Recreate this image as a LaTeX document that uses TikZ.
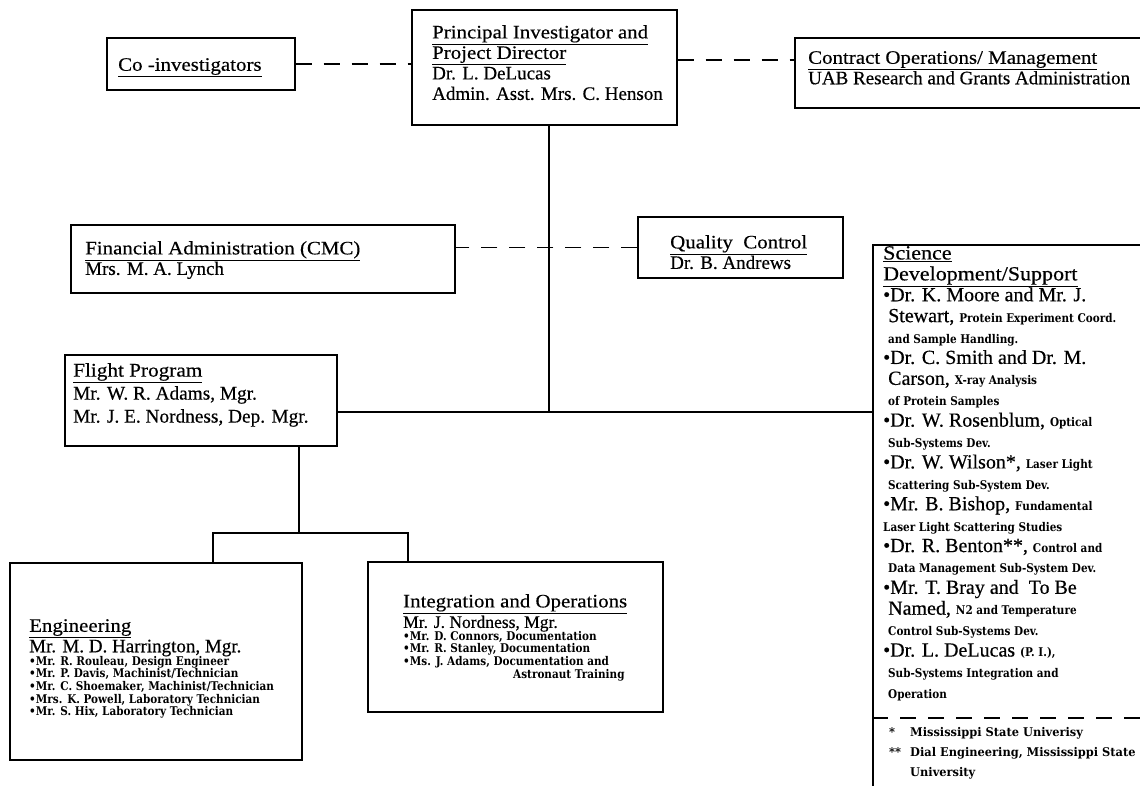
\documentclass[tikz,border=0pt]{standalone}
\usepackage{fontspec}
\setmainfont{Liberation Serif}[FakeBold=0.4]
\newfontfamily\titfam{Liberation Serif}[FakeStretch=1.1, FakeBold=0.4]
\newfontfamily\smfam{DejaVu Serif}[FakeStretch=0.87]
\newfontfamily\ftfam{DejaVu Serif}[FakeStretch=0.95]
\usetikzlibrary{fit}
\newcommand\bigf{\fontsize{19}{20.5}\selectfont}
\newcommand\fpf{\fontsize{19.3}{23}\selectfont}
\newcommand\scif{\fontsize{20}{20.9}\selectfont}
\newcommand\sms{\smfam\bfseries\fontsize{12}{12}\selectfont}
\newcommand\footf{\ftfam\bfseries\fontsize{12}{20}\selectfont}
\newcommand\sme{\smfam\bfseries\fontsize{12}{12.6}\selectfont}
\newcommand\uln[1]{\underline{{\titfam #1}}}
\begin{document}
\begin{tikzpicture}[x=1pt,y=-1pt,
  box/.style={draw, line width=1.4pt, inner sep=0pt},
  txt/.style={anchor=north west, inner sep=0pt, align=left, font=\bigf},
  smtxt/.style={anchor=north west, inner sep=0pt, align=left, font=\sme},
  dsh/.style={line width=1.4pt, dash pattern=on 16pt off 12pt},
  ln/.style={line width=1.4pt}]
\useasboundingbox (0,0) rectangle (1140,786);
\fill[white] (0,0) rectangle (1140,786);

% boxes
\node[box, fit={(412,10) (677,125)}] (pi) {};
\node[box, fit={(107,38) (295,90)}] (coi) {};
\node[box, fit={(795,38) (1170,108)}] (ct) {};
\node[box, fit={(71,225) (455,293)}] (fin) {};
\node[box, fit={(638,217) (843,278)}] (qc) {};
\node[box, fit={(873,245) (1170,820)}] (sci) {};
\node[box, fit={(65,355) (337,446)}] (fp) {};
\node[box, fit={(10,563) (302,760)}] (eng) {};
\node[box, fit={(368,562) (663,712)}] (io) {};

% texts
\node[txt] (pit) at (432,25) {\uln{Principal Investigator and}\\\uln{Project Director}\\Dr. L. DeLucas\\Admin. Asst. Mrs. C. Henson};
\node[txt] (coit) at (118,58) {\uln{Co -investigators}};
\node[txt] (ctt) at (808,51) {\uln{Contract Operations/ Management}\\UAB Research and Grants Administration};
\node[txt] (fint) at (85,241) {\uln{Financial Administration (CMC)}\\Mrs. M. A. Lynch};
\node[txt] (qct) at (670,235) {\uln{Quality\ \ Control}\\Dr. B. Andrews};
\node[txt, font=\fpf] (fpt) at (73,363) {\uln{Flight Program}\\Mr. W. R. Adams, Mgr.\\Mr. J. E. Nordness, Dep. Mgr.};
\node[txt] (engt) at (29,619) {\uln{Engineering}\\Mr. M. D. Harrington, Mgr.};
\node[smtxt] (engs) at (29,656) {•Mr. R. Rouleau, Design Engineer\\•Mr. P. Davis, Machinist/Technician\\•Mr. C. Shoemaker, Machinist/Technician\\•Mrs. K. Powell, Laboratory Technician\\•Mr. S. Hix, Laboratory Technician};
\node[txt] (iot) at (403,594) {\uln{Integration and Operations}\\{\fontsize{17.5}{17.5}\selectfont Mr. J. Nordness, Mgr.}};
\node[smtxt] (ios) at (403,631) {•Mr. D. Connors, Documentation\\•Mr. R. Stanley, Documentation\\•Ms. J. Adams, Documentation and\\\hspace*{110pt}Astronaut Training};
\node[txt, font=\scif] (scit) at (883,246) {\uln{Science}\\\uln{Development/Support}\\
•Dr. K. Moore and Mr. J.\\
\ Stewart, {\sms Protein Experiment Coord.}\\
\ {\sms and Sample Handling.}\\
•Dr. C. Smith and Dr. M.\\
\ Carson, {\sms X-ray Analysis}\\
\ {\sms of Protein Samples}\\
•Dr. W. Rosenblum, {\sms Optical}\\
\ {\sms Sub-Systems Dev.}\\
•Dr. W. Wilson*, {\sms Laser Light}\\
\ {\sms Scattering Sub-System Dev.}\\
•Mr. B. Bishop, {\sms Fundamental}\\
{\sms Laser Light Scattering Studies}\\
•Dr. R. Benton**, {\sms Control and}\\
\ {\sms Data Management Sub-System Dev.}\\
•Mr. T. Bray and\ \ To Be\\
\ Named, {\sms N2 and Temperature}\\
\ {\sms Control Sub-Systems Dev.}\\
•Dr. L. DeLucas {\sms (P. I.),}\\
\ {\sms Sub-Systems Integration and}\\
\ {\sms Operation}};
\node[anchor=north west, inner sep=0pt, align=left, font=\footf] (foot) at (889,727) {\makebox[21pt][l]{*}Mississippi State Univerisy\\\makebox[21pt][l]{**}Dial Engineering, Mississippi State\\\hspace*{21pt}University};

% connectors
\coordinate (y60) at (0,60);
\draw[dsh] (coi.east) -- (coi.east -| pi.west);
\draw[dsh] (pi.east |- y60) -- (ct.west |- y60);
\coordinate (j1) at (549,412);
\draw[ln] (j1 |- pi.south) -- (j1);
\draw[ln] (fp.east |- j1) -- (sci.west |- j1);
\draw[dsh] (qc.west) -- (qc.west -| fin.east);
\coordinate (j2) at (299,533);
\draw[ln] (j2 |- fp.south) -- (j2);
\coordinate (b1) at (213,533);
\coordinate (b2) at (408,533);
\draw[ln] (b1 |- eng.north) -- (b1) -- (b2) -- (b2 |- io.north);
\coordinate (sd) at (1140,718);
\draw[dsh] (sci.west |- sd) -- (sd);
\end{tikzpicture}
\end{document}
